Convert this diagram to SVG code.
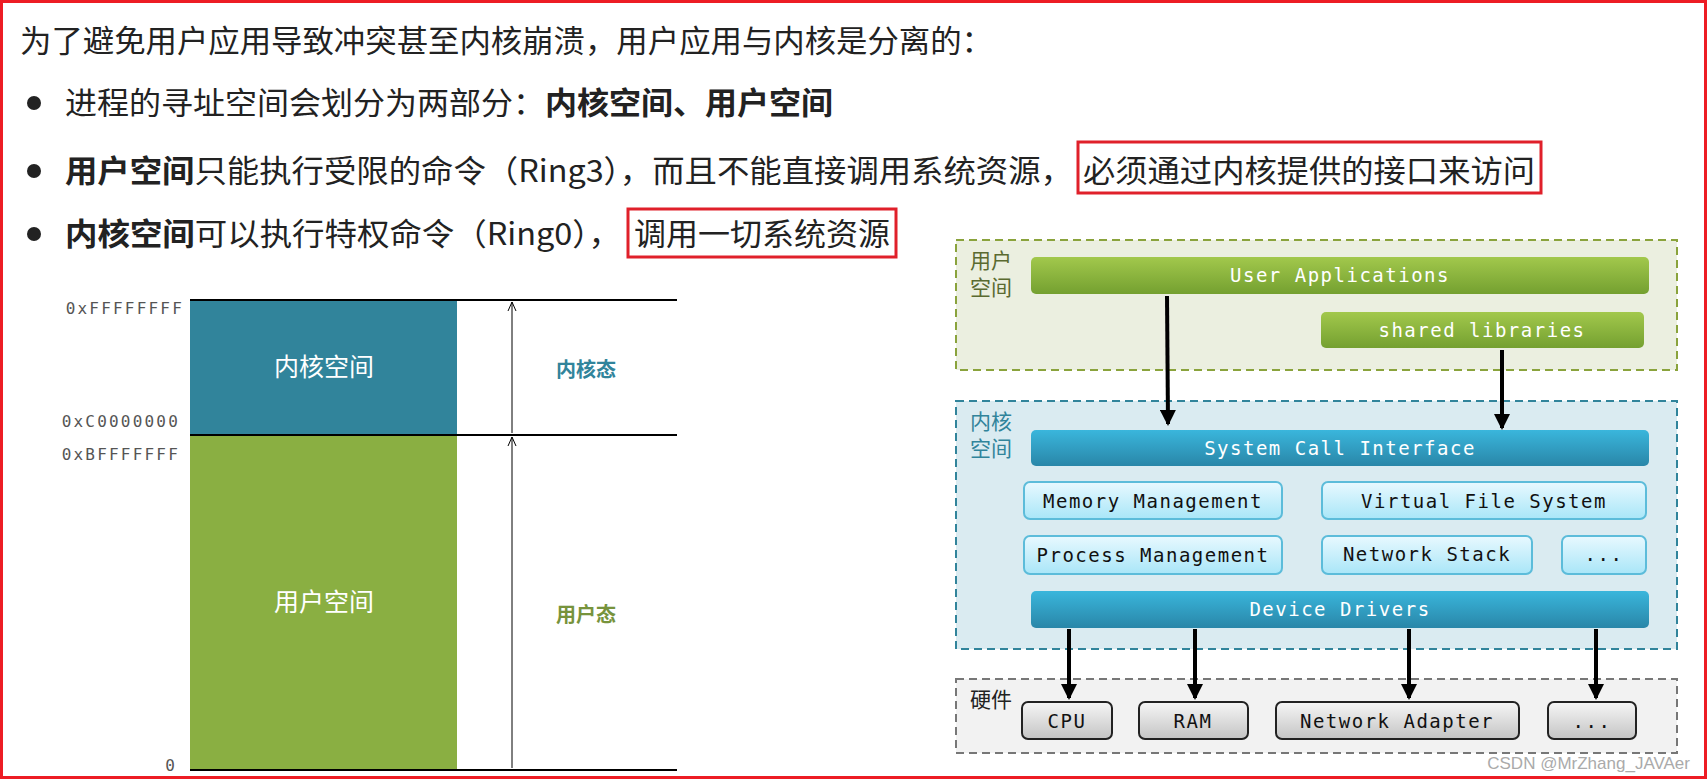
<svg xmlns="http://www.w3.org/2000/svg" width="1707" height="782" viewBox="0 0 1707 782">
<defs>
<linearGradient id="gG" x1="0" y1="0" x2="0" y2="1"><stop offset="0" stop-color="#a2c84c"/><stop offset="1" stop-color="#74a030"/></linearGradient>
<linearGradient id="gB" x1="0" y1="0" x2="0" y2="1"><stop offset="0" stop-color="#3ab6dc"/><stop offset="1" stop-color="#2986a8"/></linearGradient>
<linearGradient id="gL" x1="0" y1="0" x2="0" y2="1"><stop offset="0" stop-color="#e8f9ff"/><stop offset="1" stop-color="#a9e6f8"/></linearGradient>
<linearGradient id="gH" x1="0" y1="0" x2="0" y2="1"><stop offset="0" stop-color="#f6f6f6"/><stop offset="1" stop-color="#c4c4c4"/></linearGradient>
<marker id="ah" markerWidth="4" markerHeight="4" refX="3.5" refY="2" orient="auto"><path d="M0,0 L4,2 L0,4 Z" fill="#000"/></marker>
<marker id="at" markerWidth="10" markerHeight="10" refX="9" refY="5" orient="auto" markerUnits="userSpaceOnUse"><path d="M0,1 L9,5 L0,9" fill="none" stroke="#000" stroke-width="1"/></marker>
</defs>
<style>
.t{font-family:"Noto Sans CJK SC","Liberation Sans",sans-serif;fill:#222}
.b{font-weight:bold}
.m{font-family:"DejaVu Sans Mono",monospace;font-size:19px;letter-spacing:1.5px;text-anchor:middle}
.w{fill:#fff}
.k{fill:#111}
.addr{font-family:"DejaVu Sans Mono",monospace;font-size:16px;letter-spacing:2.2px;fill:#555;text-anchor:end}
.red{fill:none;stroke:#e0202a;stroke-width:3}
.conn{stroke:#000;stroke-width:4;fill:none}
</style>
<rect x="0" y="0" width="1707" height="782" fill="#fff"/>
<rect x="1.5" y="1.5" width="1704" height="776" fill="none" stroke="#ed1c24" stroke-width="3"/>
<text class="t" x="20" y="52" font-size="31" textLength="973" lengthAdjust="spacingAndGlyphs">为了避免用户应用导致冲突甚至内核崩溃，用户应用与内核是分离的：</text>
<circle cx="34" cy="103" r="7" fill="#222"/>
<circle cx="34" cy="171" r="7" fill="#222"/>
<circle cx="34" cy="234" r="7" fill="#222"/>
<text class="t" x="65" y="114" font-size="31" textLength="768" lengthAdjust="spacingAndGlyphs">进程的寻址空间会划分为两部分：<tspan class="b">内核空间、用户空间</tspan></text>
<text class="t" x="65" y="182" font-size="31" textLength="1008" lengthAdjust="spacingAndGlyphs"><tspan class="b">用户空间</tspan>只能执行受限的命令（Ring3），而且不能直接调用系统资源，</text>
<text class="t" x="1083" y="182" font-size="31" textLength="452" lengthAdjust="spacingAndGlyphs">必须通过内核提供的接口来访问</text>
<text class="t" x="65" y="245" font-size="31" textLength="556" lengthAdjust="spacingAndGlyphs"><tspan class="b">内核空间</tspan>可以执行特权命令（Ring0），</text>
<text class="t" x="634" y="245" font-size="31" textLength="256" lengthAdjust="spacingAndGlyphs">调用一切系统资源</text>
<rect class="red" x="1078" y="142" width="463" height="51"/>
<rect class="red" x="628" y="209" width="268" height="48"/>

<g id="left">
<rect x="190" y="300" width="267" height="135" fill="#31849b"/>
<rect x="190" y="435" width="267" height="335" fill="#8aaf42"/>
<line x1="190" y1="300" x2="677" y2="300" stroke="#000" stroke-width="2"/>
<line x1="190" y1="435" x2="677" y2="435" stroke="#000" stroke-width="2"/>
<line x1="190" y1="770" x2="677" y2="770" stroke="#000" stroke-width="2"/>
<line x1="512" y1="433" x2="512" y2="302" stroke="#000" stroke-width="1" marker-end="url(#at)"/>
<line x1="512" y1="768" x2="512" y2="437" stroke="#000" stroke-width="1" marker-end="url(#at)"/>
<text class="t w" x="324" y="376" font-size="25" text-anchor="middle" style="fill:#fff">内核空间</text>
<text class="t w" x="324" y="611" font-size="25" text-anchor="middle" style="fill:#fff">用户空间</text>
<text class="t b" x="586" y="377" font-size="20" text-anchor="middle" style="fill:#31849b">内核态</text>
<text class="t b" x="586" y="622" font-size="20" text-anchor="middle" style="fill:#77933c">用户态</text>
<text class="addr" x="184" y="314">0xFFFFFFFF</text>
<text class="addr" x="180" y="427">0xC0000000</text>
<text class="addr" x="180" y="460">0xBFFFFFFF</text>
<text class="addr" x="177" y="771">0</text>
</g>

<g id="zone-user"><rect x="956" y="240" width="721" height="130" fill="#ebefe0" stroke="#8aa33c" stroke-width="2" stroke-dasharray="8,5"/>
<text class="t" x="970" y="268" font-size="21" style="fill:#5a6a30">用户</text><text class="t" x="970" y="295" font-size="21" style="fill:#5a6a30">空间</text></g>
<g id="zone-kernel"><rect x="956" y="401" width="721" height="248" fill="#daebf1" stroke="#31849b" stroke-width="2" stroke-dasharray="8,5"/>
<text class="t" x="970" y="429" font-size="21" style="fill:#31849b">内核</text><text class="t" x="970" y="456" font-size="21" style="fill:#31849b">空间</text></g>
<g id="zone-hw"><rect x="956" y="679" width="721" height="74" fill="#f2f2f2" stroke="#777" stroke-width="2" stroke-dasharray="8,5"/>
<text class="t" x="970" y="707" font-size="21">硬件</text></g>

<g id="ua"><rect x="1031" y="257" width="618" height="37" rx="5" fill="url(#gG)"/><text class="m w" x="1340" y="282">User Applications</text></g>
<g id="sl"><rect x="1321" y="312" width="323" height="36" rx="5" fill="url(#gG)"/><text class="m w" x="1482" y="337">shared libraries</text></g>
<g id="sci"><rect x="1031" y="430" width="618" height="36" rx="5" fill="url(#gB)"/><text class="m w" x="1340" y="455">System Call Interface</text></g>
<g id="mm"><rect x="1024" y="482" width="258" height="37" rx="6" fill="url(#gL)" stroke="#5cbcda" stroke-width="2"/><text class="m k" x="1153" y="508">Memory Management</text></g>
<g id="vfs"><rect x="1322" y="482" width="324" height="37" rx="6" fill="url(#gL)" stroke="#5cbcda" stroke-width="2"/><text class="m k" x="1484" y="508">Virtual File System</text></g>
<g id="pm"><rect x="1024" y="536" width="258" height="38" rx="6" fill="url(#gL)" stroke="#5cbcda" stroke-width="2"/><text class="m k" x="1153" y="562">Process Management</text></g>
<g id="ns"><rect x="1322" y="536" width="210" height="38" rx="6" fill="url(#gL)" stroke="#5cbcda" stroke-width="2"/><text class="m k" x="1427" y="561">Network Stack</text></g>
<g id="kdots"><rect x="1562" y="536" width="84" height="38" rx="6" fill="url(#gL)" stroke="#5cbcda" stroke-width="2"/><text class="m k" x="1604" y="561">...</text></g>
<g id="dd"><rect x="1031" y="591" width="618" height="37" rx="5" fill="url(#gB)"/><text class="m w" x="1340" y="616">Device Drivers</text></g>
<g id="cpu"><rect x="1022" y="702" width="90" height="37" rx="6" fill="url(#gH)" stroke="#222" stroke-width="2"/><text class="m k" x="1067" y="728">CPU</text></g>
<g id="ram"><rect x="1139" y="702" width="109" height="37" rx="6" fill="url(#gH)" stroke="#222" stroke-width="2"/><text class="m k" x="1193" y="728">RAM</text></g>
<g id="na"><rect x="1276" y="702" width="243" height="37" rx="6" fill="url(#gH)" stroke="#222" stroke-width="2"/><text class="m k" x="1397" y="728">Network Adapter</text></g>
<g id="hdots"><rect x="1548" y="702" width="88" height="37" rx="6" fill="url(#gH)" stroke="#222" stroke-width="2"/><text class="m k" x="1592" y="728">...</text></g>

<g id="connectors">
<line class="conn" x1="1167" y1="296" x2="1168" y2="424" marker-end="url(#ah)"/>
<line class="conn" x1="1502" y1="350" x2="1502" y2="428" marker-end="url(#ah)"/>
<line class="conn" x1="1069" y1="629" x2="1069" y2="698" marker-end="url(#ah)"/>
<line class="conn" x1="1195" y1="629" x2="1195" y2="698" marker-end="url(#ah)"/>
<line class="conn" x1="1409" y1="629" x2="1409" y2="698" marker-end="url(#ah)"/>
<line class="conn" x1="1596" y1="629" x2="1596" y2="698" marker-end="url(#ah)"/>
</g>
<text x="1690" y="769" font-family="Liberation Sans, sans-serif" font-size="17" fill="#aaa" text-anchor="end">CSDN @MrZhang_JAVAer</text>
</svg>
